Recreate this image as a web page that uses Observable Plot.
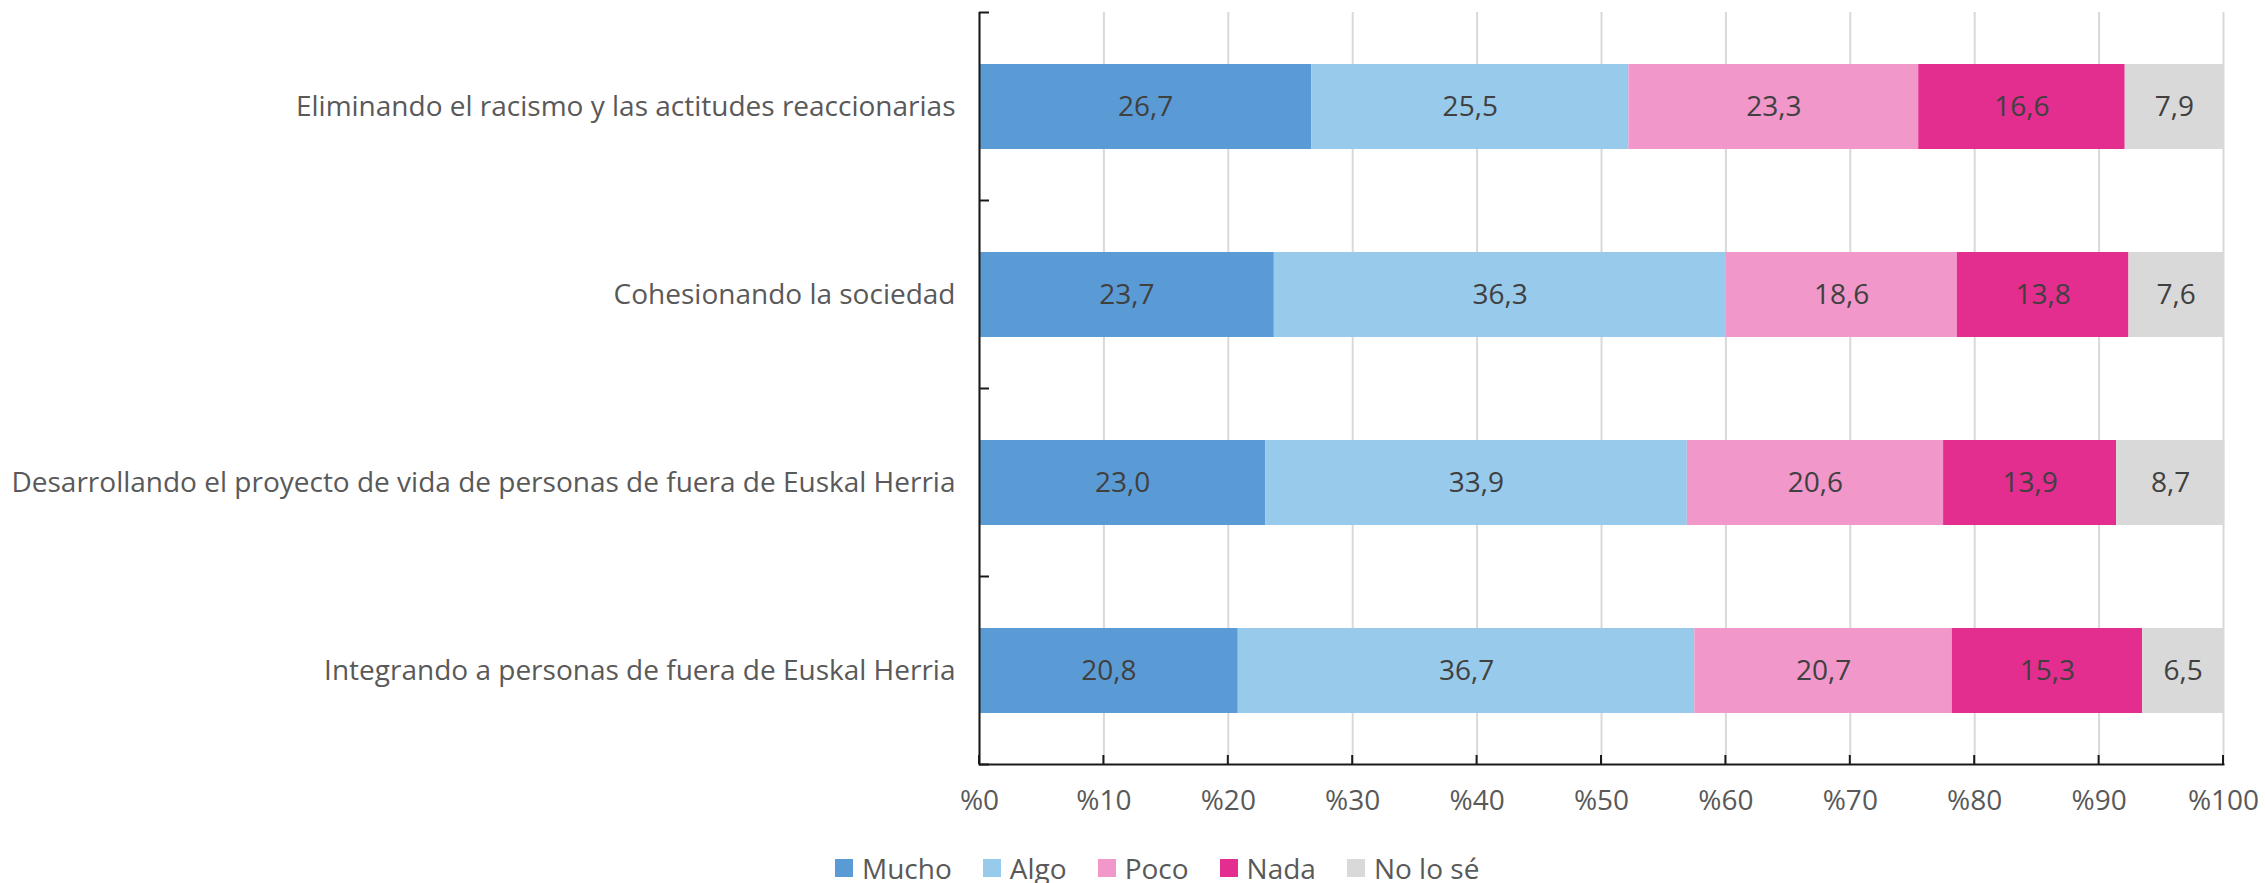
<!DOCTYPE html>
<html><head><meta charset="utf-8">
<script src="https://cdn.jsdelivr.net/npm/d3@7"></script>
<script src="https://cdn.jsdelivr.net/npm/@observablehq/plot@0.6"></script>
<style>
body{margin:0;background:#fff;font-family:"Open Sans",sans-serif;}
#legend{display:flex;align-items:center;padding-left:835px;height:56px;font-size:28px;color:#595959;}
#legend .it{display:flex;align-items:center;margin-right:31px;}
#legend .sw{width:18px;height:18px;margin-right:9px;}
</style></head><body>
<div id="chart"></div>
<div id="legend"></div>
<script>
const items = ["Eliminando el racismo y las actitudes reaccionarias","Cohesionando la sociedad","Desarrollando el proyecto de vida de personas de fuera de Euskal Herria","Integrando a personas de fuera de Euskal Herria"];
const answers = ["Mucho","Algo","Poco","Nada","No lo sé"];
const colors = ["#5B9BD5","#98CAEB","#F197C9","#E32D8F","#D9D9D9"];
const mucho = [26.7,23.7,23.0,20.8];
const algo = [25.5,36.3,33.9,36.7];
const poco = [23.3,18.6,20.6,20.7];
const nada = [16.6,13.8,13.9,15.3];
const nolose = [7.9,7.6,8.7,6.5];
const xTicks = [0,10,20,30,40,50,60,70,80,90,100];

const series = [mucho,algo,poco,nada,nolose];
const rows = [];
items.forEach((it,i)=>answers.forEach((a,j)=>rows.push({item:it,answer:a,value:series[j][i],order:j})));
const fmt = v => v.toFixed(1).replace(".", ",");

const plot = Plot.plot({
  width: 2265, height: 840,
  marginLeft: 979, marginRight: 42, marginTop: 12, marginBottom: 76,
  style: {fontFamily: "'Open Sans', sans-serif", background: "#fff"},
  x: {domain: [0,100], ticks: xTicks},
  y: {domain: items, padding: 0.548, paddingOuter: 0.274, align: 0.5},
  color: {domain: answers, range: colors},
  marks: [
    Plot.gridX(xTicks, {stroke: "#d9d9d9", strokeOpacity: 1, strokeWidth: 2}),
    Plot.barX(rows, Plot.stackX({x: "value", y: "item", fill: "answer", order: answers})),
    Plot.text(rows, Plot.stackX({x: "value", y: "item", z: "answer", order: answers, text: d => fmt(d.value), fill: "#404040", fontSize: 28})),
    Plot.ruleX([0], {stroke: "#1a1a1a", strokeWidth: 2}),
    Plot.frame({anchor: "bottom", stroke: "#1a1a1a", strokeWidth: 2}),
    Plot.axisY({tickSize: 0, tickPadding: 24, fontSize: 28, color: "#595959", label: null}),
    Plot.axisX(xTicks, {tickSize: 0, tickPadding: 26, fontSize: 28, color: "#595959", tickFormat: d => "%" + d, label: null})
  ]
});
document.getElementById("chart").appendChild(plot);

// inward Excel-style ticks, positioned with the plot's own scales
const xs = plot.scale("x"), ys = plot.scale("y");
const svg = d3.select(plot);
const yBottom = 840 - 76;
const g = svg.append("g").attr("stroke", "#1a1a1a").attr("stroke-width", 2);
xTicks.forEach(t => { const px = xs.apply(t); g.append("line").attr("x1", px).attr("x2", px).attr("y1", yBottom).attr("y2", yBottom - 9); });
const gap = (ys.step - ys.bandwidth) / 2;
const bounds = items.map(c => ys.apply(c) - gap).concat([ys.apply(items[items.length-1]) + ys.bandwidth + gap]);
const x0 = xs.apply(0);
bounds.forEach(b => g.append("line").attr("x1", x0).attr("x2", x0 + 10).attr("y1", b).attr("y2", b));

const leg = document.getElementById("legend");
answers.forEach((a,i)=>{
  const it = document.createElement("div"); it.className = "it";
  it.innerHTML = `<div class="sw" style="background:${colors[i]}"></div><span>${a}</span>`;
  leg.appendChild(it);
});
</script></body></html>
